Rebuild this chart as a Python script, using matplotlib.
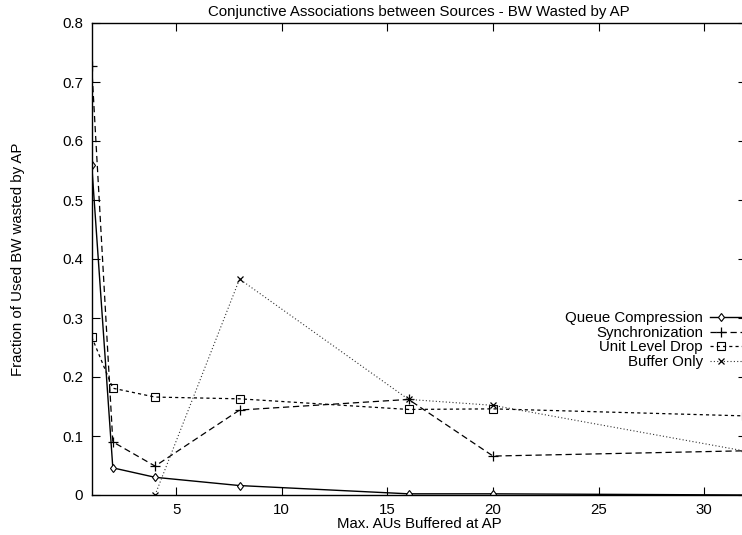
import matplotlib
matplotlib.use("Agg")
import matplotlib.pyplot as plt
from matplotlib.lines import Line2D
from matplotlib.legend_handler import HandlerLine2DCompound

plt.rcParams['font.family'] = ['Liberation Sans', 'DejaVu Sans']

# ---- data ----
buffers = [1, 2, 4, 8, 16, 20, 32]
queue_comp = [0.56, 0.046, 0.030, 0.016, 0.002, 0.002, 0.0]
sync = [0.727, 0.090, 0.049, 0.144, 0.162, 0.066, 0.075]
unit_drop = [0.268, 0.181, 0.166, 0.163, 0.145, 0.146, 0.134]
buffer_x = [4, 8, 16, 20, 32]
buffer_only = [0.0, 0.366, 0.162, 0.152, 0.074]

labels = ["Queue Compression", "Synchronization", "Unit Level Drop", "Buffer Only"]
xticks = [5, 10, 15, 20, 25, 30]
yticks = [0, 0.1, 0.2, 0.3, 0.4, 0.5, 0.6, 0.7, 0.8]


class LeftMarker(HandlerLine2DCompound):
    # gnuplot-like key sample: point sits near the start of the line
    def get_xdata(self, legend, xdescent, ydescent, width, height, fontsize):
        xdata = [-xdescent, -xdescent + width]
        return xdata, [-xdescent + 0.3 * width]


W, H = 742, 535
fs = 10.8
fig = plt.figure(figsize=(W / 100, H / 100), dpi=100)
# plot frame in pixels: left 91.7, right 746.5 (slightly past the image), top 23, bottom 495
ax = fig.add_axes([91.7 / W, (H - 495) / H, (746.5 - 91.7) / W, (495 - 23) / H])

ax.plot(buffers, queue_comp, color='black', lw=1.0, marker='d', ms=4.5,
        mfc='white', mec='black', mew=0.8, label=labels[0])
ax.plot(buffers, sync, color='black', lw=0.9, ls=(0, (5, 3)), marker='+', ms=7,
        mew=0.9, label=labels[1])
ax.plot(buffers, unit_drop, color='black', lw=0.9, ls=(0, (2.5, 2.5)), marker='s', ms=5.5,
        mfc='none', mec='black', mew=0.8, label=labels[2])
ax.plot(buffer_x, buffer_only, color='#333333', lw=0.8, ls=(0, (1, 2)), marker='x', ms=5,
        mew=0.9, mec='black', label=labels[3])

ax.set_xlim(1, 32)
ax.set_ylim(0, 0.8)
ax.set_xticks(xticks)
ax.set_yticks(yticks)
ax.set_yticklabels(['0', '0.1', '0.2', '0.3', '0.4', '0.5', '0.6', '0.7', '0.8'])
ax.tick_params(direction='in', length=6, width=0.8, top=True, right=True,
               labelsize=fs, pad=6)
for s in ax.spines.values():
    s.set_linewidth(1.0)

ax.set_title("Conjunctive Associations between Sources - BW Wasted by AP",
             fontsize=fs, pad=5)
ax.set_xlabel("Max. AUs Buffered at AP", fontsize=fs, labelpad=0)
ax.set_ylabel("Fraction of Used BW wasted by AP", fontsize=fs, labelpad=27)

leg = ax.legend(loc='upper right', bbox_to_anchor=(746.5 / W, (H - 311) / H),
                bbox_transform=fig.transFigure, frameon=False, markerfirst=False,
                fontsize=fs, handlelength=2.4, handletextpad=0.5,
                labelspacing=0.05, borderpad=0, borderaxespad=0,
                handler_map={Line2D: LeftMarker()})

fig.savefig("out.png", dpi=100)
